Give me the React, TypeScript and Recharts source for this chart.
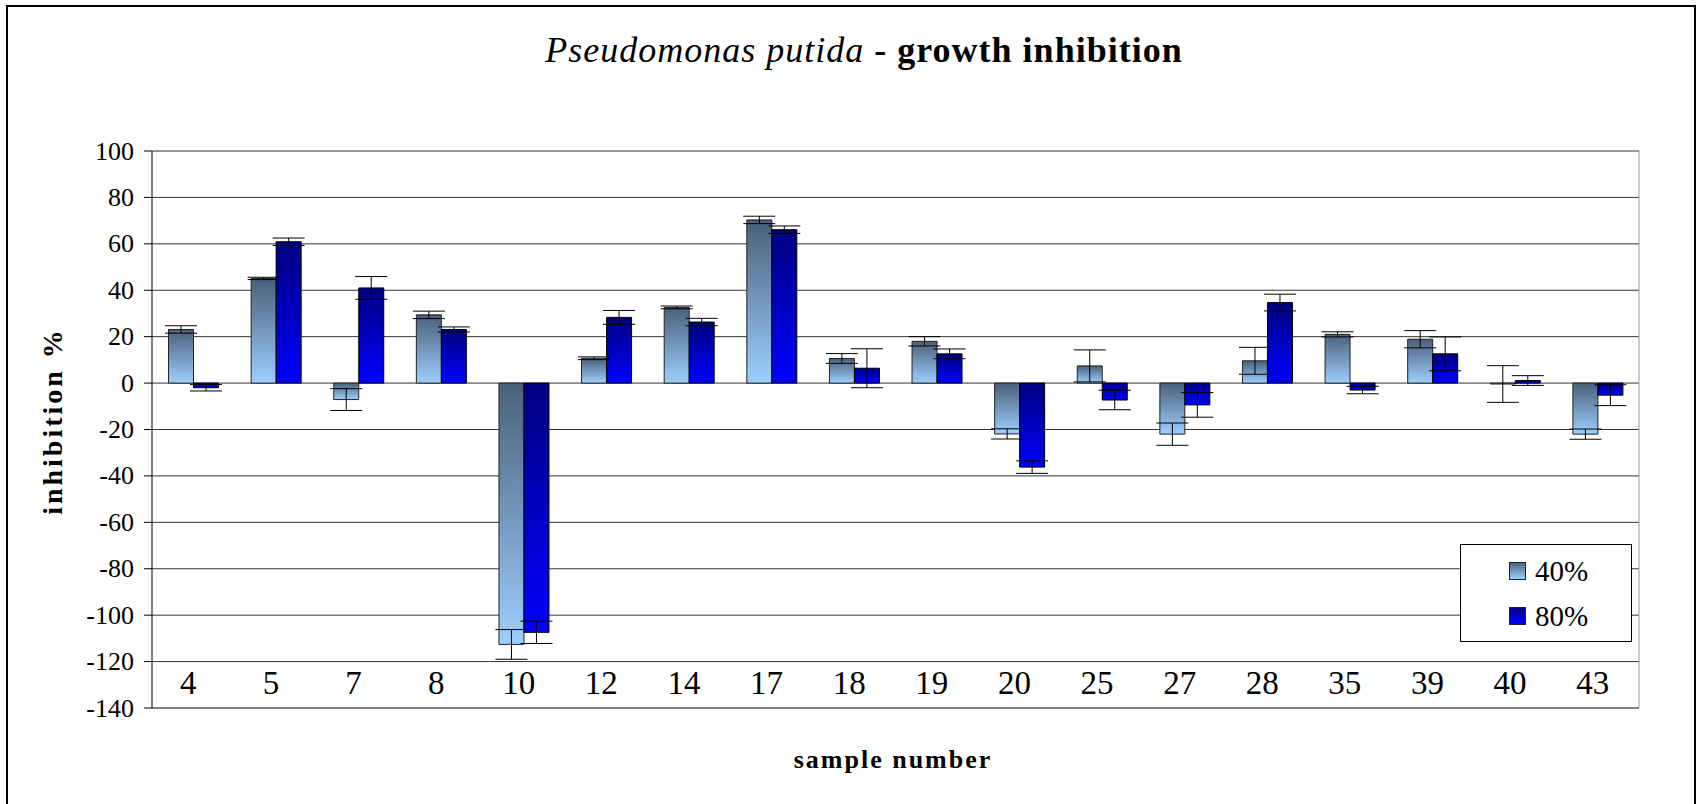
import React from 'react';
import { BarChart, Bar, XAxis, YAxis, CartesianGrid, ErrorBar, Legend } from 'recharts';

const categories = ['4', '5', '7', '8', '10', '12', '14', '17', '18', '19', '20', '25', '27', '28', '35', '39', '40', '43'];
const values40 = [23.1, 45.1, -7.1, 29.4, -112.6, 10.7, 32.6, 70.3, 10.6, 18.0, -21.9, 7.4, -22.0, 9.6, 21.0, 18.9, -0.4, -22.0];
const errors40 = [1.6, 0.5, 4.7, 1.6, 6.4, 0.6, 0.6, 1.6, 2.1, 2.0, 2.2, 6.9, 4.8, 5.8, 1.1, 3.7, 7.9, 2.2];
const values80 = [-2.0, 60.9, 41.0, 23.1, -107.4, 28.3, 26.3, 66.1, 6.4, 12.6, -36.2, -7.3, -9.4, 34.7, -3.0, 12.6, 1.1, -5.2];
const errors80 = [1.4, 1.6, 4.9, 1.1, 4.8, 3.0, 1.6, 1.6, 8.4, 2.1, 2.7, 4.2, 5.3, 3.6, 1.6, 7.3, 2.1, 4.5];
const yTicks = [-140, -120, -100, -80, -60, -40, -20, 0, 20, 40, 60, 80, 100];
const seriesNames = ['40%', '80%'];

const data = categories.map((c, i) => ({
  cat: c,
  v40: values40[i],
  e40: errors40[i],
  v80: values80[i],
  e80: errors80[i],
}));

const FONT = '"Liberation Serif", "Times New Roman", serif';

const CatTick = (props: any) => {
  const { x, y, payload } = props;
  return (
    <text x={x - 5} y={y - 25} textAnchor="middle" dominantBaseline="central" fontSize={33} style={{ fontFamily: FONT }} fill="#000">
      {payload.value}
    </text>
  );
};

const ValTick = (props: any) => {
  const { x, y, payload } = props;
  return (
    <text x={x} y={y} textAnchor="end" dominantBaseline="central" fontSize={26} style={{ fontFamily: FONT }} fill="#000">
      {payload.value}
    </text>
  );
};

const LegendBox = () => (
  <div
    style={{
      width: 172,
      height: 98,
      boxSizing: 'border-box',
      border: '1px solid #000',
      background: '#fff',
      fontFamily: FONT,
      fontSize: 29,
      color: '#000',
      position: 'relative',
    }}
  >
    {seriesNames.map((n, i) => (
      <div key={n} style={{ position: 'absolute', left: 48, top: i === 0 ? 9 : 54, height: 34, display: 'flex', alignItems: 'center' }}>
        <div
          style={{
            width: 17,
            height: 18,
            boxSizing: 'border-box',
            border: '1px solid #222',
            background: i === 0 ? 'linear-gradient(#4d6580, #9ccfff)' : 'linear-gradient(#000080, #0000ff)',
            marginRight: 9,
          }}
        />
        <span style={{ lineHeight: '34px', fontFamily: FONT }}>{n}</span>
      </div>
    ))}
  </div>
);

export default function App() {
  return (
    <div style={{ position: 'absolute', left: 0, top: 0, width: 1696, height: 804, overflow: 'hidden', background: '#fff' }}>
      <BarChart
        width={1696}
        height={804}
        data={data}
        margin={{ top: 151, right: 56, left: 52, bottom: 76 }}
        barCategoryGap="20%"
        barGap={0}
      >
        <defs>
          <linearGradient id="g40" x1="0" y1="0" x2="0" y2="1">
            <stop offset="0" stopColor="#4a6079" />
            <stop offset="1" stopColor="#9ccfff" />
          </linearGradient>
          <linearGradient id="g80" x1="0" y1="0" x2="0" y2="1">
            <stop offset="0" stopColor="#000080" />
            <stop offset="1" stopColor="#0000ff" />
          </linearGradient>
        </defs>
        <CartesianGrid vertical={false} stroke="#333" strokeWidth={1} />
        <XAxis
          dataKey="cat"
          height={20}
          tickLine={false}
          tickSize={0}
          tickMargin={0}
          interval={0}
          axisLine={{ stroke: '#808080', strokeWidth: 2 }}
          tick={<CatTick />}
        />
        <YAxis
          width={100}
          domain={[-140, 100]}
          ticks={yTicks}
          interval={0}
          tickSize={8}
          tickMargin={10}
          tickLine={{ stroke: '#000' }}
          axisLine={{ stroke: '#000' }}
          tick={<ValTick />}
        />
        <YAxis
          yAxisId="r"
          orientation="right"
          width={1}
          domain={[-140, 100]}
          tick={false}
          tickLine={false}
          axisLine={{ stroke: '#999' }}
        />
        <Legend
          layout="horizontal"
          verticalAlign="middle"
          align="center"
          wrapperStyle={{ left: 1460, top: 544, width: 172, height: 98 }}
          content={() => <LegendBox />}
        />
        <Bar dataKey="v40" name={seriesNames[0]} fill="url(#g40)" stroke="#222" strokeWidth={1} isAnimationActive={false}>
          <ErrorBar dataKey="e40" width={16} stroke="#000" strokeWidth={1} direction="y" />
        </Bar>
        <Bar dataKey="v80" name={seriesNames[1]} fill="url(#g80)" stroke="#000" strokeWidth={1} isAnimationActive={false}>
          <ErrorBar dataKey="e80" width={16} stroke="#000" strokeWidth={1} direction="y" />
        </Bar>
      </BarChart>
      <svg width={1696} height={804} style={{ position: 'absolute', left: 0, top: 0, pointerEvents: 'none' }}>
        <text x={864} y={62} textAnchor="middle" fontSize={36} style={{ fontFamily: FONT }} fill="#000" letterSpacing={1}>
          <tspan fontStyle="italic">Pseudomonas putida</tspan>
          <tspan fontWeight="bold">{'  - growth inhibition'}</tspan>
        </text>
        <text
          x={0}
          y={0}
          transform="translate(62 421) rotate(-90)"
          textAnchor="middle"
          fontSize={28}
          fontWeight="bold"
          style={{ fontFamily: FONT }}
          fill="#000"
          letterSpacing={3}
        >
          inhibition %
        </text>
        <text x={893} y={768} textAnchor="middle" fontSize={26} fontWeight="bold" style={{ fontFamily: FONT }} fill="#000" letterSpacing={2}>
          sample number
        </text>
      </svg>
      <div
        style={{
          position: 'absolute',
          left: 6,
          top: 5,
          width: 1690,
          height: 900,
          boxSizing: 'border-box',
          border: '2px solid #000',
          pointerEvents: 'none',
        }}
      />
    </div>
  );
}
